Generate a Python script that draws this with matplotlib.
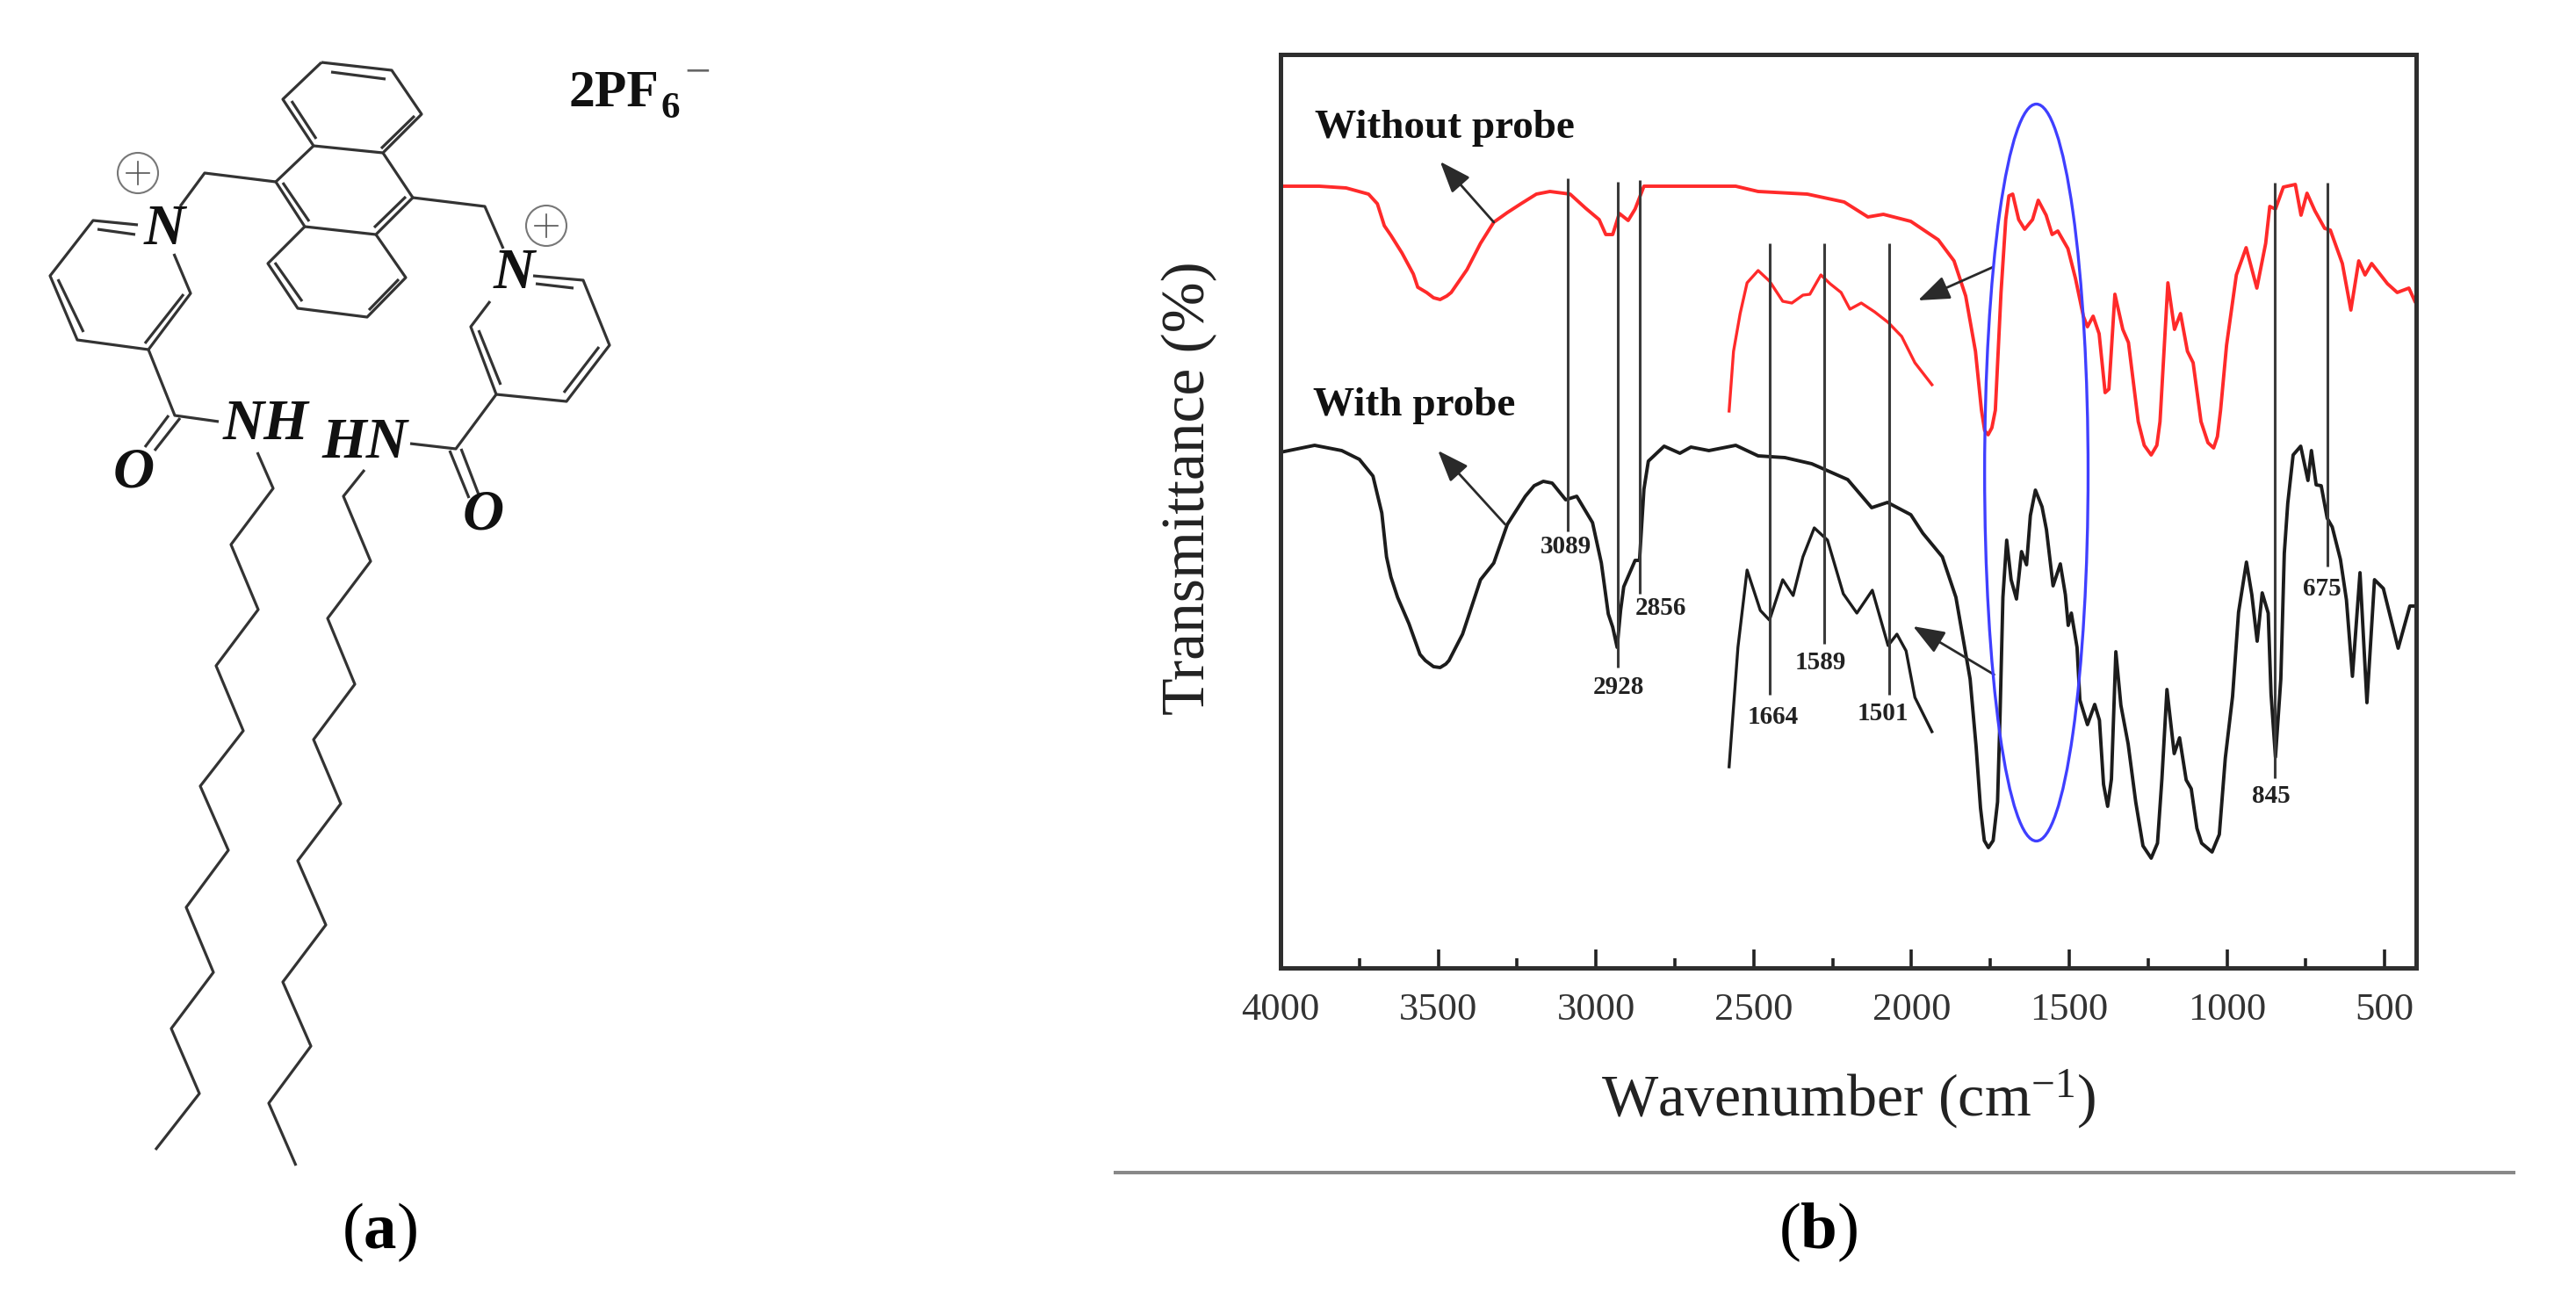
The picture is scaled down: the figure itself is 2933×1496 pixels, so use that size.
#!/bin/python3
"""
IR spectra with / without probe, and the probe structure on the left
"""

import numpy as np
import matplotlib
matplotlib.use('Agg')
import matplotlib.pyplot as plt
from matplotlib.patches import Ellipse, Circle

plt.rcParams['font.family'] = ['Liberation Serif', 'DejaVu Serif']
plt.rcParams['mathtext.fontset'] = 'custom'
plt.rcParams['mathtext.rm'] = 'Liberation Serif'
plt.rcParams['mathtext.bf'] = 'Liberation Serif:bold'
plt.rcParams['mathtext.default'] = 'regular'

# spectra: wavenumber, transmittance (arbitrary units)
red_w = [4001, 3877, 3792, 3721, 3693, 3671, 3650, 3615, 3579, 3565, 3537, 3515, 3494, 3473, 3459, 3409, 3366, 3324, 3281, 3238,
         3189, 3146, 3082, 3033, 2990, 2969, 2947, 2926, 2898, 2876, 2848, 2741, 2557, 2486, 2330, 2213,
         2138, 2089, 2002, 1915, 1865, 1828, 1797, 1778, 1768, 1757, 1745, 1734, 1716, 1701, 1691, 1679, 1660, 1641,
         1616, 1598, 1573, 1554, 1536, 1504, 1480, 1455, 1442, 1424, 1405, 1386, 1374, 1355, 1330, 1312,
         1281, 1262, 1240, 1222, 1212, 1187, 1166, 1147, 1125, 1107, 1082, 1060, 1042, 1030, 1020, 1001, 970, 939, 905, 877,
         864, 846, 821, 783, 765, 746, 721, 690, 672, 634, 607, 582, 562, 541, 491, 460, 423, 404]
red_t = [890, 890, 888, 881, 870, 845, 834, 814, 790, 775, 769, 763, 761, 765, 769, 795, 825, 849, 860, 870,
         881, 884, 881, 865, 852, 835, 835, 859, 851, 864, 890, 890, 890, 884, 881, 872,
         855, 858, 850, 829, 805, 765, 702, 635, 612, 607, 615, 635, 769, 852, 879, 881, 852, 841,
         852, 874, 857, 835, 839, 819, 785, 742, 730, 742, 722, 655, 659, 767, 727, 712,
         622, 595, 584, 595, 622, 780, 727, 745, 702, 689, 622, 598, 592, 605, 635, 709, 789, 820, 774, 825,
         867, 864, 889, 892, 857, 882, 862, 842, 840, 802, 749, 805, 789, 802, 779, 769, 774, 759]

red_inset_w = [2578, 2564, 2543, 2521, 2486, 2450, 2408, 2379, 2344, 2322, 2287, 2258, 2223, 2195, 2159,
               2117, 2074, 2031, 1989, 1935]
red_inset_t = [634, 702, 745, 780, 794, 782, 759, 757, 766, 767, 789, 779, 769, 750, 757,
               747, 735, 719, 689, 664]

black_w = [4001, 3892, 3806, 3750, 3707, 3679, 3664, 3650, 3629, 3593, 3558, 3541, 3515, 3494, 3476, 3466, 3423, 3366, 3324,
           3281, 3224, 3196, 3167, 3139, 3132, 3096, 3061, 3011, 2983, 2961, 2947, 2933, 2922, 2912, 2876, 2862, 2848, 2834, 2784,
           2734, 2699, 2642, 2557, 2486, 2401, 2316, 2202, 2126, 2076, 2002, 1964, 1902, 1859, 1814, 1795, 1781,
           1769, 1756, 1741, 1727, 1719, 1710, 1698, 1684, 1667, 1651, 1635, 1623, 1607, 1586, 1572, 1551, 1528, 1512, 1503, 1493, 1475, 1466,
           1442, 1419, 1404, 1391, 1378, 1366, 1352, 1336, 1313, 1289, 1266, 1240, 1220, 1206, 1190, 1167, 1150, 1129, 1113, 1095,
           1080, 1047, 1024, 1005, 982, 963, 938, 921, 904, 888, 869, 860, 846, 829, 818, 807, 790, 766, 743, 732,
           717, 701, 682, 666, 640, 621, 602, 578, 556, 532, 504, 457, 420, 403]
black_t = [587, 595, 589, 579, 560, 518, 468, 445, 422, 392, 357, 350, 343, 342, 346, 350, 380, 442, 461,
           505, 537, 549, 554, 552, 549, 533, 537, 507, 461, 403, 388, 365, 407, 434, 464, 464, 545, 577, 594,
           586, 593, 589, 595, 583, 581, 574, 556, 524, 530, 516, 495, 468, 422, 329, 252, 182,
           145, 137, 145, 189, 289, 422, 487, 442, 420, 474, 459, 515, 544, 525, 499, 435, 460, 425, 390, 404, 365, 305,
           277, 300, 282, 209, 184, 215, 360, 299, 255, 189, 139, 125, 142, 215, 317, 244, 262, 214, 204, 159,
           142, 132, 152, 239, 309, 405, 462, 425, 372, 427, 404, 312, 240, 329, 472, 529, 584, 594, 555, 589,
           550, 549, 512, 502, 465, 419, 332, 450, 302, 442, 432, 364, 412, 412]

black_inset_w = [2578, 2550, 2521, 2479, 2450, 2408, 2375, 2344, 2308, 2266, 2216, 2173, 2124, 2074, 2046,
                 2017, 1989, 1935]
black_inset_t = [229, 365, 453, 407, 396, 442, 424, 468, 501, 487, 426, 404, 430, 367, 380,
                 361, 308, 269]

# peak marker lines and labels
peak_names = ['3089', '2928', '2856', '1664', '1589', '1501', '845', '675']
peak_x = [3089, 2931, 2860, 2450, 2276, 2071, 848, 680]
peak_top = [899, 895, 897, 825, 825, 825, 894, 894]
peak_bot = [497, 342, 426, 311, 369, 311, 216, 457]
peak_label_x = [3096, 2929, 2794, 2440, 2287, 2091, 861, 699]
peak_label_y = [480, 320, 409, 285, 348, 289, 195, 431]

xticks_major = [4000, 3500, 3000, 2500, 2000, 1500, 1000, 500]
xticks_minor = [3750, 3250, 2750, 2250, 1750, 1250, 750]

# structure drawing, pixel positions on the page
ring_top = [(366, 71), (446, 80), (480, 130), (436, 174), (357, 166), (322, 113), (366, 71)]
ring_mid = [(436, 174), (470, 225), (428, 267), (347, 258), (314, 207), (357, 166)]
ring_low = [(428, 267), (462, 316), (418, 361), (339, 351), (305, 300), (347, 258)]
ring_left = [(157, 256), (106, 251), (57, 314), (88, 387), (169, 398), (217, 334), (198, 289)]
ring_right = [(607, 314), (664, 319), (694, 393), (645, 457), (565, 449), (536, 372), (558, 343)]
chain_left = [(293, 515), (311, 556), (263, 620), (294, 694), (246, 758), (277, 832), (228, 895),
              (260, 968), (212, 1033), (243, 1107), (195, 1171), (227, 1245), (177, 1309)]
chain_right = [(415, 535), (391, 565), (422, 639), (373, 704), (404, 779), (357, 842), (388, 915),
               (339, 980), (371, 1053), (322, 1118), (354, 1191), (306, 1256), (337, 1327)]
other_bonds = [
    [(377, 82), (439, 90)], [(332, 115), (360, 158)], [(472, 132), (434, 169)],
    [(322, 208), (352, 252)], [(462, 224), (426, 259)],
    [(313, 299), (344, 343)], [(454, 318), (420, 353)],
    [(314, 207), (233, 197), (205, 235)], [(470, 225), (552, 235), (573, 283)],
    [(111, 261), (154, 267)], [(66, 318), (95, 378)], [(209, 335), (165, 391)],
    [(169, 398), (199, 473), (249, 480)], [(192, 473), (165, 509)], [(205, 476), (176, 513)],
    [(610, 323), (653, 328)], [(682, 395), (642, 447)], [(545, 376), (570, 438)],
    [(565, 449), (519, 511), (467, 505)], [(512, 513), (534, 567)], [(525, 511), (545, 563)],
]
plus_circles = [(157, 197), (622, 257)]
atom_names = ['N', 'N', 'NH', 'HN', 'O', 'O']
atom_x = [187, 585, 303, 415, 152, 550]
atom_y = [262, 312, 484, 505, 538, 586]

W, H = 2933, 1496
fig = plt.figure(figsize=(W/100, H/100), dpi=100)

# page axes in pixels, for the structure, the rule and the captions
ax0 = fig.add_axes([0, 0, 1, 1])
ax0.set_xlim(0, W)
ax0.set_ylim(H, 0)
ax0.axis('off')

bond_kw = dict(color='#333333', lw=2.3, solid_joinstyle='round', solid_capstyle='butt')
for pts in [ring_top, ring_mid, ring_low, ring_left, ring_right, chain_left, chain_right] + other_bonds:
    p = np.array(pts)
    ax0.plot(p[:, 0], p[:, 1], **bond_kw)
for cx, cy in plus_circles:
    ax0.add_patch(Circle((cx, cy), 23, fill=False, ec='#777777', lw=1.5))
    ax0.plot([cx-13, cx+13], [cy, cy], color='#555555', lw=1.2)
    ax0.plot([cx, cx], [cy-13, cy+13], color='#555555', lw=1.2)
for name, ax_, ay_ in zip(atom_names, atom_x, atom_y):
    ax0.text(ax_, ay_, name, fontsize=47, style='italic', weight='bold', ha='center', va='center', color='#111111')

ax0.text(648, 121, '2PF', fontsize=43, weight='bold', ha='left', va='baseline', color='#111111')
ax0.text(753, 134, '6', fontsize=31, weight='bold', ha='left', va='baseline', color='#111111')
ax0.text(794, 84, '\u2212', fontsize=38, ha='center', va='center', color='#666666')

ax0.plot([1268, 2864], [1335, 1335], color='#888888', lw=2.9, solid_capstyle='butt')
ax0.text(432, 1403, r'($\mathbf{a}$)', fontsize=54, ha='center', va='center', color='black')
ax0.text(2070, 1403, r'($\mathbf{b}$)', fontsize=54, ha='center', va='center', color='black')

# spectrum axes
ax = fig.add_axes([1458/W, 1-1102/H, 1293/W, 1040/H])
ax.patch.set_alpha(0)
ax.set_xlim(4000, 400)
ax.set_ylim(0, 1040)
ax.set_yticks([])
ax.set_xticks(xticks_major)
ax.set_xticks(xticks_minor, minor=True)
ax.tick_params(axis='x', which='major', direction='in', length=15, width=2.6, color='#222222',
               labelsize=32, labelcolor='#333333', pad=20)
ax.tick_params(axis='x', which='minor', direction='in', length=8, width=2.6, color='#222222')
for s in ax.spines.values():
    s.set_linewidth(3.6)
    s.set_color('#2e2e2e')

line_kw = dict(lw=2.8, solid_joinstyle='round')
ax.plot(red_w, red_t, color='#ff2a2a', **line_kw)
ax.plot(red_inset_w, red_inset_t, color='#ff2a2a', lw=2.4)
ax.plot(black_w, black_t, color='#1c1c1c', **line_kw)
ax.plot(black_inset_w, black_inset_t, color='#1c1c1c', lw=2.4)

for x, t, b in zip(peak_x, peak_top, peak_bot):
    ax.plot([x, x], [b, t], color='#3a3a3a', lw=2.2, solid_capstyle='butt')
for name, x, y in zip(peak_names, peak_label_x, peak_label_y):
    ax.text(x, y, name, fontsize=21, weight='bold', ha='center', va='center', color='#222222')

ax.add_patch(Ellipse((1604, 564), 328, 839, fill=False, ec='#3f3fff', lw=2.4, zorder=5))

arrow_kw = dict(arrowstyle='-|>,head_length=1.0,head_width=0.38', color='#2a2a2a', lw=2.0,
                mutation_scale=22, shrinkA=0, shrinkB=0)
ax.annotate('', xy=(3494, 918), xytext=(3324, 849), arrowprops=arrow_kw)
ax.annotate('', xy=(3501, 589), xytext=(3288, 505), arrowprops=arrow_kw)
ax.annotate('', xy=(1979, 760), xytext=(1741, 798), arrowprops=arrow_kw)
ax.annotate('', xy=(1995, 389), xytext=(1738, 334), arrowprops=arrow_kw)

ax0.text(1497, 157, 'Without probe', fontsize=34, weight='bold', ha='left', va='baseline', color='#111111')
ax0.text(1495, 473, 'With probe', fontsize=34, weight='bold', ha='left', va='baseline', color='#111111')

ax0.text(2105, 1270, r'Wavenumber (cm$^{-1}$)', fontsize=49, ha='center', va='baseline', color='#222222')
ax0.text(1386, 556, 'Transmittance (%)', fontsize=50, rotation=90, ha='right', va='center',
         rotation_mode='default', color='#222222')

fig.savefig('out.png', dpi=100)
plt.close()
